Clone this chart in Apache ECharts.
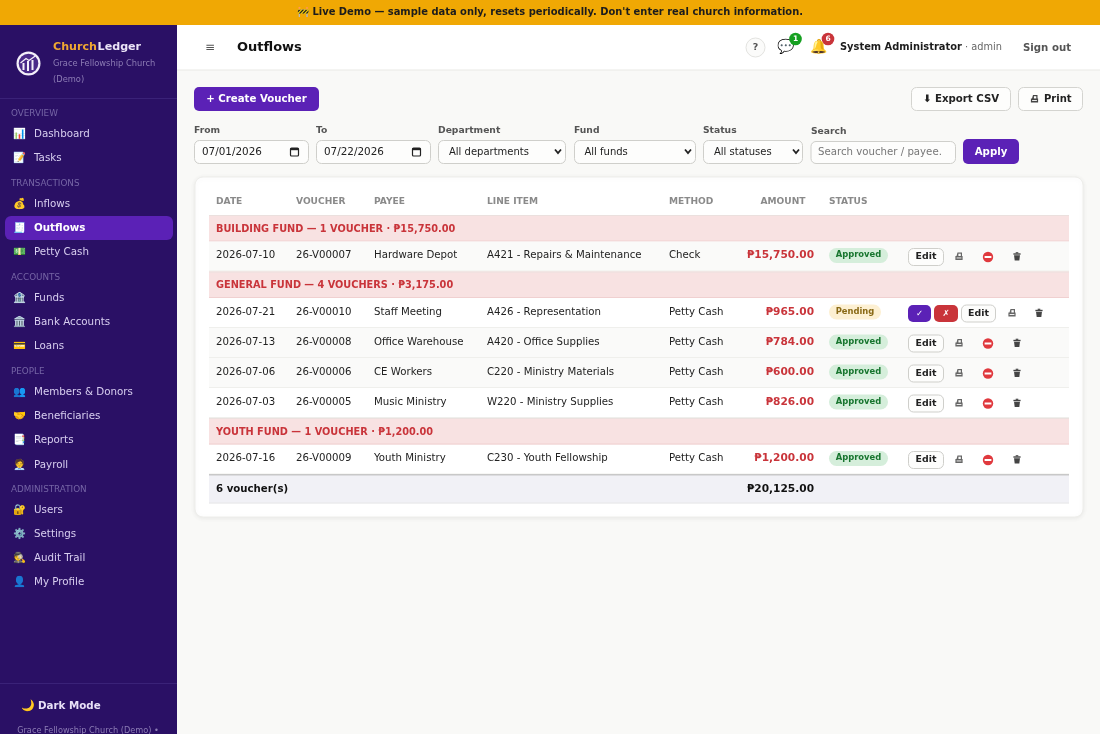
<!DOCTYPE html>
<html>
<head>
<meta charset="utf-8">
<title>Outflows</title>
<style>
  html, body { margin: 0; padding: 0; background: #f9f9f7; }
  #chart { width: 1100px; height: 734px; }
</style>
<script src="https://cdn.jsdelivr.net/npm/echarts@6/dist/echarts.min.js"></script>
</head>
<body>
<div id="chart"></div>
<script>
const navSections = ['OVERVIEW', 'TRANSACTIONS', 'ACCOUNTS', 'PEOPLE', 'ADMINISTRATION'];
const navLabels = [
  ['Dashboard', 'Tasks'],
  ['Inflows', 'Outflows', 'Petty Cash'],
  ['Funds', 'Bank Accounts', 'Loans'],
  ['Members & Donors', 'Beneficiaries', 'Reports', 'Payroll'],
  ['Users', 'Settings', 'Audit Trail', 'My Profile']
];
const navIcons = [
  ['📊', '📝'],
  ['💰', '🧾', '💵'],
  ['🏦', '🏛️', '💳'],
  ['👥', '🤝', '📑', '🧑‍💼'],
  ['🔐', '⚙️', '🕵️', '👤']
];
const columns = ['DATE', 'VOUCHER', 'PAYEE', 'LINE ITEM', 'METHOD', 'AMOUNT', 'STATUS'];
const groupTitles = [
  'BUILDING FUND — 1 VOUCHER · ₱15,750.00',
  'GENERAL FUND — 4 VOUCHERS · ₱3,175.00',
  'YOUTH FUND — 1 VOUCHER · ₱1,200.00'
];
const groupOf = [0, 1, 1, 1, 1, 2];
const shadedRows = [0, 2, 3];
const dates = ['2026-07-10', '2026-07-21', '2026-07-13', '2026-07-06', '2026-07-03', '2026-07-16'];
const vouchers = ['26-V00007', '26-V00010', '26-V00008', '26-V00006', '26-V00005', '26-V00009'];
const payees = ['Hardware Depot', 'Staff Meeting', 'Office Warehouse', 'CE Workers', 'Music Ministry', 'Youth Ministry'];
const lineItems = ['A421 - Repairs & Maintenance', 'A426 - Representation', 'A420 - Office Supplies', 'C220 - Ministry Materials', 'W220 - Ministry Supplies', 'C230 - Youth Fellowship'];
const methods = ['Check', 'Petty Cash', 'Petty Cash', 'Petty Cash', 'Petty Cash', 'Petty Cash'];
const amounts = ['₱15,750.00', '₱965.00', '₱784.00', '₱600.00', '₱826.00', '₱1,200.00'];
const statuses = ['Approved', 'Pending', 'Approved', 'Approved', 'Approved', 'Approved'];
const totalLabel = '6 voucher(s)';
const totalAmount = '₱20,125.00';

const FONT = '"DejaVu Sans", sans-serif';
const PURPLE = '#5b21b6';
const RED = '#c9343a';
const els = [];

function rect (x, y, w, h, fill, opts) {
  opts = opts || {};
  els.push({
    type: 'rect',
    shape: { x: x, y: y, width: w, height: h, r: opts.r || 0 },
    style: {
      fill: fill,
      stroke: opts.stroke || null,
      lineWidth: opts.stroke ? (opts.lw || 1) : 0,
      shadowBlur: opts.blur || 0,
      shadowColor: opts.shadow || 'transparent',
      shadowOffsetY: opts.blur ? 1 : 0
    }
  });
}

function label (x, y, str, size, color, opts) {
  opts = opts || {};
  els.push({
    type: 'text',
    x: x,
    y: y + 2,
    style: {
      text: str,
      fontFamily: FONT,
      fontSize: size,
      fontWeight: opts.bold ? 'bold' : 'normal',
      fill: color,
      align: opts.align || 'left',
      verticalAlign: 'middle'
    }
  });
}

function polygon (points, fill) {
  els.push({ type: 'polygon', shape: { points: points }, style: { fill: fill } });
}

function chevron (x, y) {
  els.push({
    type: 'polyline',
    shape: { points: [[x - 3, y - 2], [x, y + 1.5], [x + 3, y - 2]] },
    style: { fill: null, stroke: '#222', lineWidth: 1.8 }
  });
}

function calendar (x, y) {
  rect(x - 4, y - 3.5, 8, 8, 'transparent', { stroke: '#222', lw: 1.2, r: 1 });
  rect(x - 4, y - 3.5, 8, 2.2, '#222');
}

function noEntry (x, y) {
  els.push({ type: 'circle', shape: { cx: x, cy: y, r: 5.2 }, style: { fill: '#e0393e' } });
  rect(x - 3.4, y - 1, 6.8, 2, '#ffffff');
}

function printer (x, y, color, hole) {
  polygon([[x - 1.5, y - 4], [x + 3, y - 4], [x + 3, y - 0.5], [x + 3.6, y - 0.5], [x + 3.6, y + 3.5], [x - 3.6, y + 3.5], [x - 3.6, y - 0.5], [x - 2.5, y - 0.5]], color);
  rect(x - 0.6, y - 2.8, 2.4, 2.3, hole);
  rect(x - 2.4, y + 1, 4.8, 0.9, hole);
}

function trash (x, y) {
  rect(x - 3.6, y - 3.2, 7.2, 1.4, '#444');
  rect(x - 1.3, y - 4.3, 2.6, 1.2, '#444');
  polygon([[x - 3, y - 1.3], [x + 3, y - 1.3], [x + 2.3, y + 4], [x - 2.3, y + 4]], '#444');
}

function field (x, y, w, h, str, size) {
  rect(x + 0.5, y + 0.5, w - 1, h - 1, '#fdfdfc', { stroke: '#cfcfcb', r: 5 });
  label(x + 8, y + h / 2 - 2, str, size || 10.4, '#222');
}

function button (x, y, w, h, str) {
  rect(x + 0.5, y + 0.5, w - 1, h - 1, '#fdfdfc', { stroke: '#d4d4d0', r: 5 });
  if (str) label(x + w / 2, y + h / 2 - 2, str, 10.2, '#222', { bold: true, align: 'center' });
}

// page frame
rect(0, 25, 1100, 45, '#ffffff');
rect(177, 69.5, 923, 1, '#e9e9e6');
rect(0, 0, 1100, 25, '#f0a804');
label(550, 10, '🚧 Live Demo — sample data only, resets periodically. Don\'t enter real church information.', 9.93, '#1c1c1c', { bold: true, align: 'center' });

// sidebar
rect(0, 25, 177, 709, '#2a1065');
els.push({ type: 'circle', shape: { cx: 28.5, cy: 63.5, r: 12 }, style: { fill: '#f4f0fa' } });
els.push({ type: 'circle', shape: { cx: 28.5, cy: 63.5, r: 9.8 }, style: { fill: '#4a2a88' } });
rect(22.5, 63, 2, 7, '#f4f0fa');
rect(27, 61, 2, 10, '#f4f0fa');
rect(31.5, 60, 2, 10, '#f4f0fa');
els.push({
  type: 'polyline',
  shape: { points: [[20.5, 63], [26, 58.5], [29, 60.5], [36, 55.5]] },
  style: { fill: null, stroke: '#f4f0fa', lineWidth: 1.3 }
});
label(53, 45, 'Church', 11.1, '#f0a832', { bold: true });
label(97.6, 45, 'Ledger', 11.1, '#ebe4f7', { bold: true });
label(53, 62, 'Grace Fellowship Church', 8.3, '#8d7db5');
label(53, 78, '(Demo)', 8.3, '#8d7db5');
rect(0, 98, 177, 1, '#3a2278');

const sectionTops = [112, 182, 276, 370, 488];
navSections.forEach(function (name, s) {
  label(11, sectionTops[s], name, 8.8, '#7565a5');
  navLabels[s].forEach(function (item, i) {
    let y = sectionTops[s] + 20 + i * 24;
    if (item === 'Payroll') y += 1;
    if (item === 'Outflows') {
      rect(5, y - 10, 168, 24, PURPLE, { r: 6 });
    }
    label(13, y, navIcons[s][i], 10.4, '#fff');
    label(34, y, item, 10.3, item === 'Outflows' ? '#ffffff' : '#d8cff0', { bold: item === 'Outflows' });
  });
});
rect(0, 683, 177, 1, '#3a2278');
label(21, 704, '🌙', 11, '#fff');
label(38, 704, 'Dark Mode', 10.3, '#e8e0f7', { bold: true });
label(88, 729, 'Grace Fellowship Church (Demo) •', 8.2, '#8d7db5', { align: 'center' });

// top bar
label(210, 46, '≡', 12, '#555', { align: 'center' });
label(237, 46, 'Outflows', 13, '#111', { bold: true });
els.push({ type: 'circle', shape: { cx: 755.5, cy: 47.5, r: 9.5 }, style: { fill: '#fbfbfa', stroke: '#e3e3e0', lineWidth: 1 } });
label(755.5, 46, '?', 9.5, '#555', { bold: true, align: 'center' });
label(785.5, 45, '💬', 14, '#333', { align: 'center' });
els.push({ type: 'circle', shape: { cx: 795.5, cy: 39, r: 6.3 }, style: { fill: '#16a021' } });
label(795.5, 37, '1', 7.5, '#fff', { bold: true, align: 'center' });
label(818.5, 45, '🔔', 14, '#e0a82e', { align: 'center' });
els.push({ type: 'circle', shape: { cx: 828, cy: 39, r: 6.3 }, style: { fill: RED } });
label(828, 37, '6', 7.5, '#fff', { bold: true, align: 'center' });
label(840, 45, 'System Administrator', 9.9, '#1c1c1c', { bold: true });
label(965, 45, '· admin', 9.8, '#666');
label(1047, 46, 'Sign out', 10.2, '#555', { bold: true, align: 'center' });

// toolbar
rect(194, 87, 125, 24, PURPLE, { r: 5 });
label(256.5, 97, '+ Create Voucher', 10.2, '#fff', { bold: true, align: 'center' });
button(911, 87, 100, 24, '⬇ Export CSV');
button(1018, 87, 65, 24);
printer(1034.5, 99, '#444', '#fdfdfc');
label(1044, 97, 'Print', 10, '#222', { bold: true });

// filters
label(194, 129, 'From', 9.2, '#555', { bold: true });
label(316, 129, 'To', 9.2, '#555', { bold: true });
label(438, 129, 'Department', 9.2, '#555', { bold: true });
label(574, 129, 'Fund', 9.2, '#555', { bold: true });
label(703, 129, 'Status', 9.2, '#555', { bold: true });
label(811, 130, 'Search', 9.2, '#555', { bold: true });
field(194, 140, 115, 24, '07/01/2026');
calendar(294.5, 151.5);
field(316, 140, 115, 24, '07/22/2026');
calendar(416.5, 151.5);
rect(438.5, 140.5, 127, 23, '#fdfdfc', { stroke: '#cfcfcb', r: 5 });
label(449, 150.5, 'All departments', 10, '#222');
chevron(558, 151.5);
rect(574.5, 140.5, 121, 23, '#fdfdfc', { stroke: '#cfcfcb', r: 5 });
label(584.5, 150.5, 'All funds', 10, '#222');
chevron(688, 151.5);
rect(703.5, 140.5, 99, 23, '#fdfdfc', { stroke: '#cfcfcb', r: 5 });
label(714, 150.5, 'All statuses', 10, '#222');
chevron(796, 151.5);
rect(811, 141.5, 144.5, 22, '#fdfdfc', { stroke: '#cfcfcb', r: 5 });
label(818, 150.5, 'Search voucher / payee.', 10.2, '#777');
rect(963, 139, 56, 25, PURPLE, { r: 5 });
label(991, 150, 'Apply', 10.2, '#fff', { bold: true, align: 'center' });

// table card
rect(195, 177, 888, 340, '#ffffff', { r: 8, stroke: '#eeeeeb', blur: 5, shadow: 'rgba(0,0,0,0.07)' });

const columnX = [216, 296, 374, 487, 669, 805.5, 829];
columns.forEach(function (name, c) {
  label(columnX[c], 200, name, 9.1, '#8a8a8a', { bold: true, align: name === 'AMOUNT' ? 'right' : 'left' });
});

const TABLE_X = 209;
const TABLE_W = 860;
const GROUP_H = 26.5;
const ROW_H = 30;
let rowTop = 215;
let lastGroup = -1;

function actions (y, i) {
  function edit (x, w) {
    rect(x + 0.5, y - 8, w - 1, 17, '#fdfdfc', { stroke: '#cfcfcb', r: 5 });
    label(x + w / 2, y - 1.5, 'Edit', 9.4, '#222', { bold: true, align: 'center' });
  }
  if (statuses[i] === 'Pending') {
    rect(908, y - 8, 23, 17, PURPLE, { r: 5 });
    label(919.5, y - 1.5, '✓', 8.5, '#fff', { align: 'center' });
    rect(934, y - 8, 24, 17, RED, { r: 5 });
    label(946, y - 1.5, '✗', 8.5, '#fff', { align: 'center' });
    edit(961, 35);
    printer(1012, y, '#666', '#ffffff');
    trash(1039, y);
  } else {
    edit(908, 36);
    printer(959, y, '#666', '#fafaf9');
    noEntry(988, y + 0.5);
    trash(1017, y);
  }
}

dates.forEach(function (date, i) {
  if (groupOf[i] !== lastGroup) {
    lastGroup = groupOf[i];
    rect(TABLE_X, rowTop, TABLE_W, GROUP_H, '#f8e2e2');
    rect(TABLE_X, rowTop, TABLE_W, 1, '#ebe0de');
    rect(TABLE_X, rowTop + GROUP_H - 1, TABLE_W, 1, '#f0d0d0');
    label(216, rowTop + 12, groupTitles[lastGroup], 9.75, RED, { bold: true });
    rowTop += GROUP_H;
  }
  const textY = rowTop + 12;
  if (shadedRows.indexOf(i) >= 0) {
    rect(TABLE_X, rowTop, TABLE_W, ROW_H, '#fafaf9');
  }
  rect(TABLE_X, rowTop + ROW_H - 1, TABLE_W, 1, '#efefec');
  label(216, textY, date, 10.2, '#222');
  label(296, textY, vouchers[i], 10.2, '#222');
  label(374, textY, payees[i], 10.2, '#222');
  label(487, textY, lineItems[i], 10.2, '#222');
  label(669, textY, methods[i], 10.2, '#222');
  label(814, textY, amounts[i], 10.6, RED, { bold: true, align: 'right' });
  const pending = statuses[i] === 'Pending';
  rect(829, textY - 5.5, pending ? 52 : 59, 15, pending ? '#fdf0d2' : '#d5eedb', { r: 7.5 });
  label(pending ? 855 : 858.5, textY - 0.5, statuses[i], 8.4, pending ? '#8a6a16' : '#17752e', { bold: true, align: 'center' });
  actions(textY + 3, i);
  rowTop += ROW_H;
});

rect(TABLE_X, rowTop, TABLE_W, 29, '#f1f1f6');
rect(TABLE_X, rowTop - 0.5, TABLE_W, 1.5, '#c8c8c8');
rect(TABLE_X, rowTop + 28, TABLE_W, 1, '#e7e7e7');
label(216, rowTop + 12.5, totalLabel, 10.2, '#111', { bold: true });
label(814, rowTop + 12.5, totalAmount, 10.6, '#111', { bold: true, align: 'right' });

const chart = echarts.init(document.getElementById('chart'));
chart.setOption({
  animation: false,
  backgroundColor: '#f9f9f7',
  graphic: { elements: els }
});
</script>
</body>
</html>
